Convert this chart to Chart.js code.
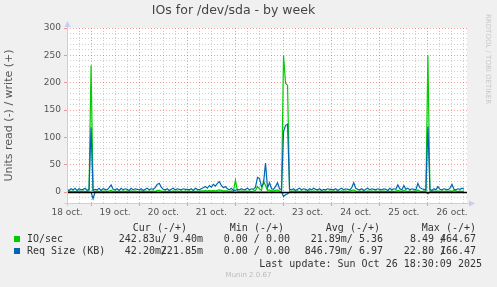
<!DOCTYPE html>
<html lang="en">
<head>
  <meta charset="UTF-8">
  <title>IOs for /dev/sda - by week</title>
  <style>
    body { margin: 0; background: #f0f0f0; }
    #wrap {
      position: relative;
      width: 497px;
      height: 287px;
      background: #f0f0f0;
      font-family: 'DejaVu Sans Mono', monospace;
      font-size: 10px;
      color: #333;
      overflow: hidden;
    }
    #wrap canvas { position: absolute; left: 0; top: 0; }
    .t { position: absolute; white-space: pre; line-height: 12px; }
    .sw { position: absolute; width: 6px; height: 6px; }
    .rrd {
      position: absolute; left: 484px; top: 14px;
      writing-mode: vertical-rl;
      font-family: 'DejaVu Sans', sans-serif; font-size: 7px; line-height: 8px;
      color: #c8c8c8; white-space: pre;
    }
    .munin {
      position: absolute; left: 0; width: 497px; top: 271px; text-align: center;
      font-family: 'DejaVu Sans', sans-serif; font-size: 7px; line-height: 9px; color: #bbb;
    }
  </style>
</head>
<body>
  <div id="wrap">
    <canvas id="ioChart" width="497" height="287"></canvas>
    <div class="rrd">RRDTOOL / TOBI OETIKER</div>

    <span class="t" style="top:222px; right:310px">Cur (-/+)</span>
    <span class="t" style="top:222px; right:213px">Min (-/+)</span>
    <span class="t" style="top:222px; right:117px">Avg (-/+)</span>
    <span class="t" style="top:222px; right:21px">Max (-/+)</span>

    <div class="sw" style="left:14px; top:236px; background:#00cc00"></div>
    <span class="t" style="top:233px; left:27px">IO/sec</span>
    <span class="t" style="top:233px; right:294px">242.83u/ 9.40m</span>
    <span class="t" style="top:233px; right:207px">0.00 / 0.00</span>
    <span class="t" style="top:233px; right:114px">21.89m/ 5.36</span>
    <span class="t" style="top:233px; right:51px">8.49 /</span>
    <span class="t" style="top:233px; right:21px">464.67</span>

    <div class="sw" style="left:14px; top:248px; background:#0066b3"></div>
    <span class="t" style="top:245px; left:27px">Req Size (KB)</span>
    <span class="t" style="top:245px; right:330px">42.20m/</span>
    <span class="t" style="top:245px; right:294px">221.85m</span>
    <span class="t" style="top:245px; right:207px">0.00 / 0.00</span>
    <span class="t" style="top:245px; right:114px">846.79m/ 6.97</span>
    <span class="t" style="top:245px; right:51px">22.80 /</span>
    <span class="t" style="top:245px; right:21px">166.47</span>

    <span class="t" style="top:258px; right:15px">Last update: Sun Oct 26 18:30:09 2025</span>
    <div class="munin">Munin 2.0.67</div>
  </div>

  <script src="https://cdn.jsdelivr.net/npm/chart.js"></script>
  <script>
    // x axis is in hours counted from 18 oct 00:00, one sample per hour
    const firstHour = 12;
    const lastHour = 211.5;
    const dayLabels = ['18 oct.', '19 oct.', '20 oct.', '21 oct.', '22 oct.',
                       '23 oct.', '24 oct.', '25 oct.', '26 oct.'];

    // IO/sec, write (+)
    const ioWrite = [
      1, 2, 1, 2, 1, 1, 2, 1, 2, 1, 1, 2,
      232, 2, 1, 2, 1, 2, 1, 2, 1, 2, 3, 1, 2, 1, 2, 1, 2, 1, 2, 1, 2, 1, 2, 1,
      1, 2, 1, 2, 1, 2, 1, 2, 1, 3, 3, 2, 1, 2, 1, 2, 1, 2, 1, 2, 1, 2, 1, 2,
      1, 2, 1, 2, 1, 2, 1, 2, 2, 3, 2, 3, 2, 3, 2, 3, 4, 3, 2, 2, 2, 1, 2, 1,
      22, 2, 1, 2, 1, 2, 1, 2, 1, 2, 3, 10, 6, 3, 20, 12, 3, 4, 2, 2, 3, 4, 2, 1,
      250, 199, 195, 2, 1, 2, 1, 2, 1, 2, 1, 2, 1, 2, 1, 2, 1, 2, 1, 2, 1, 2, 1, 2,
      1, 2, 1, 2, 1, 2, 1, 2, 1, 2, 3, 4, 2, 1, 2, 1, 2, 1, 2, 1, 2, 1, 2, 1,
      2, 1, 2, 1, 2, 1, 2, 1, 2, 3, 2, 1, 3, 2, 1, 2, 1, 2, 1, 4, 2, 1, 2, 1,
      250, 2, 1, 2, 1, 2, 1, 2, 1, 2, 1, 2, 1, 3, 2, 1, 2, 1, 2
    ];

    // Req Size (KB), write (+)
    const reqWrite = [
      5, 3, 6, 4, 7, 3, 6, 4, 5, 7, 3, 5,
      118, 3, 5, 4, 7, 3, 6, 5, 4, 8, 13, 5, 4, 6, 3, 7, 4, 6, 5, 3, 7, 4, 6, 5,
      4, 6, 3, 5, 7, 4, 6, 5, 8, 14, 16, 9, 5, 4, 6, 3, 5, 7, 4, 6, 5, 4, 6, 5,
      5, 4, 6, 3, 7, 5, 4, 6, 8, 10, 7, 12, 9, 14, 11, 16, 19, 12, 8, 10, 6, 4, 7, 3,
      3, 5, 4, 6, 4, 5, 7, 4, 6, 5, 9, 27, 25, 10, 15, 53, 8, 17, 6, 5, 10, 17, 6, 4,
      110, 122, 124, 5, 4, 6, 3, 5, 7, 4, 6, 5, 3, 6, 4, 7, 5, 4, 6, 3, 5, 4, 6, 5,
      5, 4, 6, 3, 5, 7, 4, 6, 5, 4, 8, 17, 7, 5, 4, 6, 3, 5, 7, 4, 6, 5, 4, 6,
      5, 4, 6, 5, 3, 7, 4, 6, 5, 13, 6, 4, 12, 5, 7, 4, 6, 5, 4, 16, 8, 6, 5, 4,
      120, 5, 3, 6, 4, 10, 5, 4, 6, 5, 4, 7, 14, 5, 4, 6, 5, 7, 5
    ];

    // Req Size (KB), read (-), drawn below zero
    const reqRead = [
      0, 0, 0, 0, 0, 0, 0, 0, 0, 0, 0, 0,
      0, 12, 0, 0, 0, 0, 0, 0, 0, 0, 0, 0, 0, 0, 0, 0, 0, 0, 0, 0, 0, 0, 0, 0,
      0, 0, 0, 0, 0, 0, 0, 0, 0, 0, 0, 0, 0, 0, 0, 0, 0, 0, 0, 0, 0, 0, 0, 0,
      0, 0, 0, 0, 0, 0, 0, 0, 0, 0, 0, 0, 0, 0, 0, 0, 0, 0, 0, 0, 0, 0, 0, 0,
      0, 0, 0, 0, 0, 0, 0, 0, 0, 0, 0, 0, 0, 0, 0, 0, 0, 0, 0, 0, 0, 0, 0, 0,
      8, 5, 3, 0, 0, 0, 0, 0, 0, 0, 0, 0, 0, 0, 0, 0, 0, 0, 0, 0, 0, 0, 0, 0,
      0, 0, 0, 0, 0, 0, 0, 0, 0, 0, 0, 0, 0, 0, 0, 0, 0, 0, 0, 0, 0, 0, 0, 0,
      0, 0, 0, 0, 0, 0, 0, 0, 0, 0, 0, 0, 0, 0, 0, 0, 0, 0, 0, 0, 0, 0, 0, 0,
      3, 0, 0, 0, 0, 0, 0, 0, 0, 0, 0, 0, 0, 0, 0, 0, 0, 0, 0
    ];

    const gridHours = [];
    for (let h = 12; h <= 210; h += 6) gridHours.push(h);

    const toPoints = (arr, sign) => arr.map((v, i) => ({ x: firstHour + i, y: sign * v }));

    const MAJOR = 'rgba(230, 80, 80, 0.55)';
    const MINOR = 'rgba(150, 150, 150, 0.45)';
    const AXIS = '#c5cdf5';
    const isMajorY = v => Math.abs(Math.round(v) % 50) === 0;

    // white canvas, black zero rule, rrdtool-style axes with arrows
    const munin = {
      id: 'munin',
      beforeDraw(chart) {
        const { ctx, chartArea: a } = chart;
        ctx.save();
        ctx.fillStyle = '#ffffff';
        ctx.fillRect(a.left, a.top, a.right - a.left, a.bottom - a.top);
        ctx.restore();
      },
      afterDatasetsDraw(chart) {
        const { ctx, chartArea: a, scales } = chart;
        const y0 = Math.round(scales.y.getPixelForValue(0)) + 0.5;
        ctx.save();
        ctx.strokeStyle = '#000';
        ctx.lineWidth = 1.4;
        ctx.beginPath();
        ctx.moveTo(a.left, y0);
        ctx.lineTo(a.right, y0);
        ctx.stroke();

        const l = Math.round(a.left) + 0.5, b = Math.round(a.bottom) + 0.5;
        ctx.strokeStyle = AXIS;
        ctx.fillStyle = AXIS;
        ctx.lineWidth = 1;
        ctx.beginPath();
        ctx.moveTo(l, b + 3);
        ctx.lineTo(l, a.top - 4);
        ctx.moveTo(l - 3, b);
        ctx.lineTo(a.right + 4, b);
        ctx.stroke();
        ctx.beginPath();
        ctx.moveTo(l, a.top - 7);
        ctx.lineTo(l - 3, a.top - 1);
        ctx.lineTo(l + 3, a.top - 1);
        ctx.closePath();
        ctx.fill();
        ctx.beginPath();
        ctx.moveTo(a.right + 8, b);
        ctx.lineTo(a.right + 2, b - 3);
        ctx.lineTo(a.right + 2, b + 3);
        ctx.closePath();
        ctx.fill();
        ctx.restore();
      }
    };

    const line = (label, data, color) => ({
      label, data,
      borderColor: color,
      borderWidth: 1.2,
      pointRadius: 0,
      tension: 0,
      fill: false
    });

    new Chart(document.getElementById('ioChart'), {
      type: 'line',
      data: {
        datasets: [
          line('Req Size (KB) write', toPoints(reqWrite, 1), '#0066b3'),
          line('Req Size (KB) read', toPoints(reqRead, -1), '#0066b3'),
          line('IO/sec write', toPoints(ioWrite, 1), '#00cc00')
        ]
      },
      options: {
        responsive: false,
        animation: false,
        layout: { padding: { left: 0, top: 0, right: 30, bottom: 64 } },
        plugins: {
          legend: { display: false },
          tooltip: { enabled: false },
          title: {
            display: true,
            text: 'IOs for /dev/sda - by week',
            color: '#444',
            font: { family: 'DejaVu Sans', size: 12.5, weight: 'normal' },
            padding: { top: 3, bottom: 10 }
          }
        },
        scales: {
          x: {
            type: 'linear',
            min: firstHour,
            max: lastHour,
            afterFit(s) { s.height = 20; },
            afterBuildTicks(s) { s.ticks = gridHours.map(v => ({ value: v })); },
            border: { display: false, dash: [1, 2] },
            grid: {
              color: c => (c.tick && c.tick.value % 24 === 0) ? MAJOR : MINOR,
              tickColor: c => (c.tick && c.tick.value % 24 === 0) ? MAJOR : 'rgba(0,0,0,0)',
              tickLength: 3,
              lineWidth: 1
            },
            ticks: {
              autoSkip: false,
              maxRotation: 0,
              minRotation: 0,
              padding: 1,
              color: '#555',
              font: { family: 'DejaVu Sans', size: 9 },
              callback: v => ((v - 12) % 24 === 0) ? dayLabels[(v - 12) / 24] : ''
            }
          },
          y: {
            min: -20,
            max: 300,
            afterFit(s) { s.width = 67; },
            border: { display: false, dash: [1, 2] },
            grid: {
              color: c => (c.tick && isMajorY(c.tick.value)) ? MAJOR : MINOR,
              tickColor: c => (c.tick && isMajorY(c.tick.value) && c.tick.value >= 0) ? MAJOR : 'rgba(0,0,0,0)',
              tickLength: 3,
              lineWidth: 1
            },
            ticks: {
              autoSkip: false,
              stepSize: 10,
              padding: 3,
              color: '#555',
              font: { family: 'DejaVu Sans', size: 9 },
              callback: v => (isMajorY(v) && v >= 0) ? Math.round(v) : ''
            },
            title: {
              display: true,
              text: 'Units read (-) / write (+)',
              color: '#555',
              font: { family: 'DejaVu Sans', size: 11 },
              padding: { top: 3, bottom: 0 }
            }
          }
        }
      },
      plugins: [munin]
    });
  </script>
</body>
</html>
